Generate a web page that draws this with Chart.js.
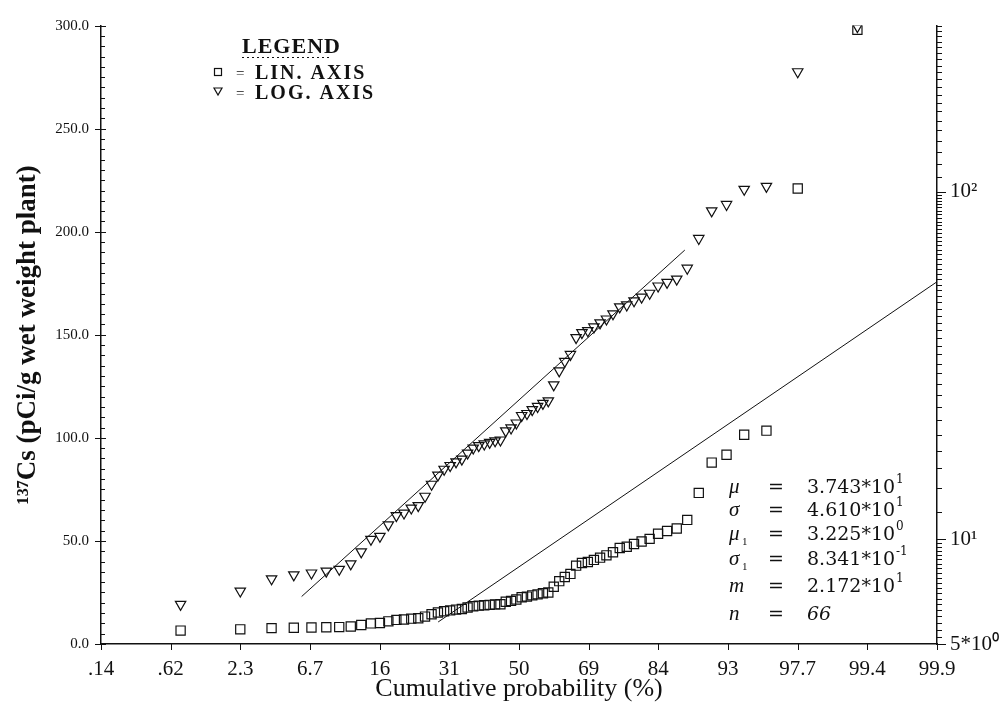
<!DOCTYPE html>
<html>
<head>
<meta charset="utf-8">
<title>137Cs probability plot</title>
<script src="https://cdn.jsdelivr.net/npm/chart.js@4.4.1/dist/chart.umd.min.js"></script>
<style>
  html, body { margin: 0; padding: 0; background: #fff; }
  #wrap { width: 1006px; height: 717px; }
</style>
</head>
<body>
<div id="wrap"><canvas id="plot" width="1006" height="717"></canvas></div>
<script>
// 137Cs in plants (pCi/g wet weight), sorted ascending, n = 66
const CS137 = [
  6.5, 7.1, 7.7, 7.9, 8.0, 8.1, 8.2, 8.5, 9.2, 10.0,
  10.2, 11.0, 11.7, 11.9, 12.3, 12.5, 13.3, 14.4, 15.3, 15.9,
  16.3, 16.7, 17.0, 17.7, 18.3, 18.6, 18.8, 19.0, 19.2, 19.3,
  20.5, 20.9, 21.6, 22.7, 23.0, 23.6, 24.1, 24.6, 25.0, 27.8,
  30.5, 32.5, 34.0, 38.0, 39.3, 39.8, 40.8, 41.9, 43.0, 44.5,
  46.6, 47.2, 48.5, 49.7, 51.0, 53.5, 54.8, 56.0, 60.2, 73.3,
  88.0, 91.8, 101.5, 103.5, 221.0, 298.0
];

// fitted parameters (normal and lognormal)
const MU = 37.43;
const SIGMA = 46.10;
const MU_LN = 3.225;
const SIGMA_LN = 0.8341;
const MEDIAN = 21.72;

// z range of the two fit lines
const LIN_FIT_Z = [-0.58, 3.0];
const LOG_FIT_Z = [-1.56, 1.19];

// axis labels
const PROB_TICKS = ['.14', '.62', '2.3', '6.7', '16', '31', '50', '69', '84', '93', '97.7', '99.4', '99.9'];
const LIN_TICKS = ['0.0', '50.0', '100.0', '150.0', '200.0', '250.0', '300.0'];
const LOG_TICK_VALUES = [5, 10, 100];
const LOG_TICKS = ['5*10\u2070', '10\u00b9', '10\u00b2'];

// stats block
const STAT_SYMBOLS = ['\u03bc', '\u03c3', '\u03bc', '\u03c3', 'm', 'n'];
const STAT_SUBS = ['', '', '1', '1', '', ''];
const STAT_VALUES = [MU, SIGMA, MU_LN, SIGMA_LN, MEDIAN, CS137.length];

// inverse standard normal (Acklam)
function probit(p) {
  const a = [-3.969683028665376e+01, 2.209460984245205e+02, -2.759285104469687e+02, 1.383577518672690e+02, -3.066479806614716e+01, 2.506628277459239e+00];
  const b = [-5.447609879822406e+01, 1.615858368580409e+02, -1.556989798598866e+02, 6.680131188771972e+01, -1.328068155288572e+01];
  const c = [-7.784894002430293e-03, -3.223964580411365e-01, -2.400758277161838e+00, -2.549732539343734e+00, 4.374664141464968e+00, 2.938163982698783e+00];
  const d = [7.784695709041462e-03, 3.224671290700398e-01, 2.445134137142996e+00, 3.754408661907416e+00];
  const lo = 0.02425;
  let q, r;
  if (p < lo || p > 1 - lo) {
    q = Math.sqrt(-2 * Math.log(p < lo ? p : 1 - p));
    const z = (((((c[0]*q+c[1])*q+c[2])*q+c[3])*q+c[4])*q+c[5]) / ((((d[0]*q+d[1])*q+d[2])*q+d[3])*q+1);
    return p < lo ? z : -z;
  }
  q = p - 0.5; r = q * q;
  return (((((a[0]*r+a[1])*r+a[2])*r+a[3])*r+a[4])*r+a[5])*q / (((((b[0]*r+b[1])*r+b[2])*r+b[3])*r+b[4])*r+1);
}

// plotting position (i - 0.5) / n
const n = CS137.length;
const points = CS137.map((v, i) => ({ x: probit((i + 0.5) / n), y: v }));
const linFit = LIN_FIT_Z.map(z => ({ x: z, y: MU + SIGMA * z }));
const logFit = LOG_FIT_Z.map(z => ({ x: z, y: Math.exp(MU_LN + SIGMA_LN * z) }));

const INK = '#111';

// tick marks on all three axes
const axisTicks = {
  id: 'axisTicks',
  afterDraw(chart) {
    const { ctx, chartArea: a, scales } = chart;
    ctx.save();
    ctx.strokeStyle = INK;
    ctx.lineWidth = 1;
    ctx.beginPath();
    for (let v = 0; v <= 300; v += 5) {
      const y = Math.round(scales.y.getPixelForValue(v)) + 0.5;
      const major = v % 50 === 0;
      ctx.moveTo(a.left - (major ? 6 : 1), y);
      ctx.lineTo(a.left + (major ? 5 : 4), y);
    }
    const logMinor = [];
    for (let v = 5; v < 10; v += 0.25) logMinor.push(v);
    for (let v = 10; v < 100; v += 2) logMinor.push(v);
    for (let v = 100; v <= 300; v += 10) logMinor.push(v);
    logMinor.forEach(v => {
      const y = Math.round(scales.y2.getPixelForValue(v)) + 0.5;
      const major = LOG_TICK_VALUES.includes(v);
      ctx.moveTo(a.right, y);
      ctx.lineTo(a.right + (major ? 9 : 5), y);
    });
    for (let k = 0; k < PROB_TICKS.length; k++) {
      const x = Math.round(scales.x.getPixelForValue(-3 + k * 0.5)) + 0.5;
      ctx.moveTo(x, a.bottom);
      ctx.lineTo(x, a.bottom + 6);
    }
    ctx.stroke();
    ctx.restore();
  }
};

// legend box and parameter list
const notes = {
  id: 'notes',
  afterDraw(chart) {
    const { ctx } = chart;
    ctx.save();
    ctx.fillStyle = INK;
    ctx.strokeStyle = INK;
    ctx.textBaseline = 'alphabetic';

    // legend
    ctx.font = 'bold 22px "Liberation Serif"';
    ctx.letterSpacing = '1px';
    ctx.fillText('LEGEND', 242, 53);
    ctx.setLineDash([2, 3]);
    ctx.lineWidth = 1;
    ctx.beginPath();
    ctx.moveTo(242, 57.5); ctx.lineTo(330, 57.5);
    ctx.stroke();
    ctx.setLineDash([]);
    ctx.font = 'bold 20px "Liberation Serif"';
    ctx.letterSpacing = '2px';
    ctx.fillText('LIN. AXIS', 255, 79);
    ctx.fillText('LOG. AXIS', 255, 99);
    ctx.letterSpacing = '0px';
    ctx.font = '15px "Liberation Serif"';
    ctx.fillText('=', 236, 78);
    ctx.fillText('=', 236, 98);
    ctx.lineWidth = 1.2;
    ctx.strokeRect(214.5, 68.5, 7, 7);
    ctx.beginPath();
    ctx.moveTo(214, 88); ctx.lineTo(222, 88); ctx.lineTo(218, 95); ctx.closePath();
    ctx.stroke();

    // fitted parameters
    const base = [493, 516, 540, 565, 592, 620];
    STAT_SYMBOLS.forEach((s, i) => {
      const y = base[i];
      ctx.font = 'italic 21px "Liberation Serif"';
      ctx.fillText(s, 729, y);
      if (STAT_SUBS[i]) {
        ctx.font = '11px "Liberation Serif"';
        ctx.fillText(STAT_SUBS[i], 742, y + 5);
      }
      ctx.font = '19px "DejaVu Serif"';
      ctx.fillText('=', 768, y);
      const v = STAT_VALUES[i];
      if (i === STAT_VALUES.length - 1) {
        ctx.font = 'italic 19px "DejaVu Serif"';
        ctx.fillText(String(v), 807, y);
      } else {
        const [m, e] = v.toExponential(3).split('e');
        const txt = m + '*10';
        ctx.fillText(txt, 807, y);
        const w = ctx.measureText(txt).width;
        ctx.font = '12px "DejaVu Serif"';
        ctx.fillText(String(parseInt(e, 10)), 807 + w + 1, y - 10);
      }
    });
    ctx.restore();
  }
};

new Chart(document.getElementById('plot'), {
  type: 'scatter',
  data: {
    datasets: [
      {
        label: 'LIN. AXIS',
        data: points,
        yAxisID: 'y',
        pointStyle: 'rect',
        pointRadius: 6.5,
        pointBorderWidth: 1.2,
        borderColor: INK,
        backgroundColor: 'rgba(0,0,0,0)'
      },
      {
        label: 'LOG. AXIS',
        data: points,
        yAxisID: 'y2',
        pointStyle: 'triangle',
        rotation: 180,
        pointRadius: 6,
        pointBorderWidth: 1.2,
        borderColor: INK,
        backgroundColor: 'rgba(0,0,0,0)'
      },
      {
        type: 'line',
        data: linFit,
        yAxisID: 'y',
        borderColor: INK,
        borderWidth: 1,
        pointRadius: 0,
        fill: false
      },
      {
        type: 'line',
        data: logFit,
        yAxisID: 'y2',
        borderColor: INK,
        borderWidth: 1,
        pointRadius: 0,
        fill: false
      }
    ]
  },
  options: {
    responsive: false,
    animation: false,
    layout: { padding: { top: 16, left: 0, right: 0, bottom: 0 } },
    plugins: { legend: { display: false }, tooltip: { enabled: false } },
    scales: {
      x: {
        type: 'linear',
        min: -3, max: 3,
        afterBuildTicks: s => { s.ticks = PROB_TICKS.map((_, k) => ({ value: -3 + k * 0.5 })); },
        afterFit: s => { s.height = 73; },
        grid: { display: false, drawTicks: false },
        border: { display: true, color: INK, width: 1.5 },
        ticks: {
          padding: 13,
          color: INK,
          font: { family: 'Liberation Serif', size: 21 },
          callback: (v, i) => PROB_TICKS[i]
        },
        title: {
          display: true,
          text: 'Cumulative probability (%)',
          color: INK,
          font: { family: 'Liberation Serif', size: 26 },
          padding: { top: 0, bottom: 12 }
        }
      },
      y: {
        type: 'linear',
        position: 'left',
        min: 0, max: 300,
        afterBuildTicks: s => { s.ticks = LIN_TICKS.map((_, k) => ({ value: k * 50 })); },
        afterFit: s => { s.width = 101; },
        grid: { display: false, drawTicks: false },
        border: { display: true, color: INK, width: 1.5 },
        ticks: {
          padding: 12,
          color: INK,
          font: { family: 'Liberation Serif', size: 15 },
          callback: (v, i) => LIN_TICKS[i]
        },
        title: {
          display: true,
          text: '\u00b9\u00b3\u2077Cs (pCi/g wet weight plant)',
          color: INK,
          font: { family: 'Liberation Serif', size: 27, weight: 'bold' },
          padding: { top: 12, bottom: 0 }
        }
      },
      y2: {
        type: 'logarithmic',
        position: 'right',
        min: 5, max: 300,
        afterBuildTicks: s => { s.ticks = LOG_TICK_VALUES.map(v => ({ value: v })); },
        afterFit: s => { s.width = 69; },
        grid: { display: false, drawTicks: false },
        border: { display: true, color: INK, width: 1.5 },
        ticks: {
          padding: 13,
          color: INK,
          font: { family: 'Liberation Serif', size: 21 },
          callback: (v, i) => LOG_TICKS[i]
        }
      }
    }
  },
  plugins: [axisTicks, notes]
});
</script>
</body>
</html>
